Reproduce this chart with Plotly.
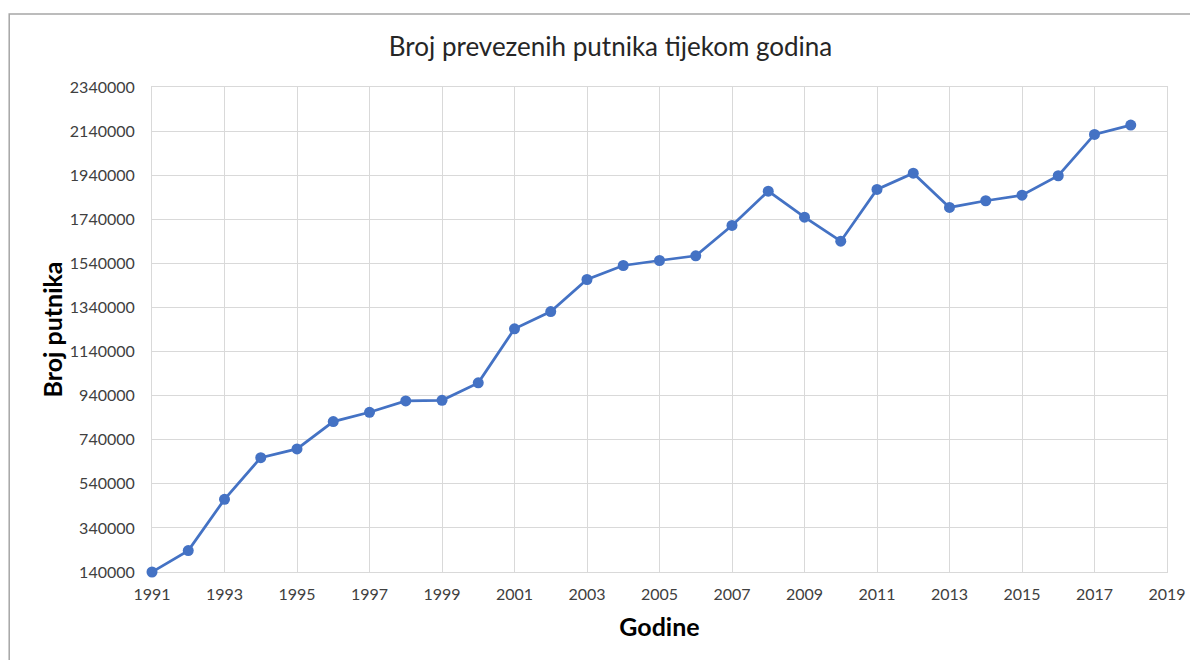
import plotly.graph_objects as go

years = list(range(1991, 2019))
passengers = [140000, 237000, 469500, 658800, 698300, 822200, 864400, 916200, 918900, 997900,
              1243000, 1321500, 1466800, 1530300, 1553000, 1574300, 1711900, 1867600, 1749500, 1640600,
              1875300, 1949300, 1793600, 1824000, 1849400, 1937400, 2125000, 2167100]
y_ticks = list(range(140000, 2340001, 200000))
x_ticks = list(range(1991, 2020, 2))

# page body has an 8px offset; figure sized so the page fits the window
W, H = 1190, 652
L, R, T, B = 144, 26, 79, 88

fig = go.Figure()
fig.add_trace(go.Scatter(
    x=years, y=passengers, mode="lines+markers",
    line=dict(color="#4472C4", width=2.75),
    marker=dict(color="#4472C4", size=11),
    cliponaxis=False, showlegend=False,
))

font_main = "Lato"
fig.update_layout(
    width=W, height=H,
    margin=dict(l=L, r=R, t=T, b=B),
    paper_bgcolor="white", plot_bgcolor="white",
    title=dict(text="Broj prevezenih putnika tijekom godina",
               xref="container", x=(610.5 - 8) / W, xanchor="center",
               yref="container", y=1 - (47 - 8) / H, yanchor="middle",
               font=dict(family=font_main, size=26, color="#262626")),
    xaxis=dict(range=[1991, 2019], tickvals=x_ticks, ticktext=[str(v) for v in x_ticks],
               showgrid=True, gridcolor="#D9D9D9", gridwidth=1,
               showline=True, linecolor="#D9D9D9", linewidth=1, mirror=True,
               ticks="", zeroline=False, ticklabelstandoff=8, layer="below traces",
               tickfont=dict(family=font_main, size=16, color="#404040"),
               title=dict(text="<b>Godine</b>", font=dict(family=font_main, size=25, color="#000000"), standoff=16)),
    yaxis=dict(range=[140000, 2340000], tickvals=y_ticks, ticktext=[str(v) for v in y_ticks],
               showgrid=True, gridcolor="#D9D9D9", gridwidth=1,
               showline=True, linecolor="#D9D9D9", linewidth=1, mirror=True,
               ticks="", zeroline=False, ticklabelstandoff=13, layer="below traces",
               tickfont=dict(family=font_main, size=16, color="#404040"),
               title=dict(text="<b>Broj putnika</b>", font=dict(family=font_main, size=25, color="#000000"), standoff=0)),
)

# outer chart border (left and top visible)
pw, ph = W - L - R, H - T - B
fig.add_shape(type="rect", xref="paper", yref="paper",
              x0=(0.5 - L) / pw, x1=(W + 5 - L) / pw, y0=(-5 - B) / ph, y1=(H - 6 - B) / ph,
              line=dict(color="#A6A6A6", width=1.5), layer="below")

fig.write_html("out.html")
